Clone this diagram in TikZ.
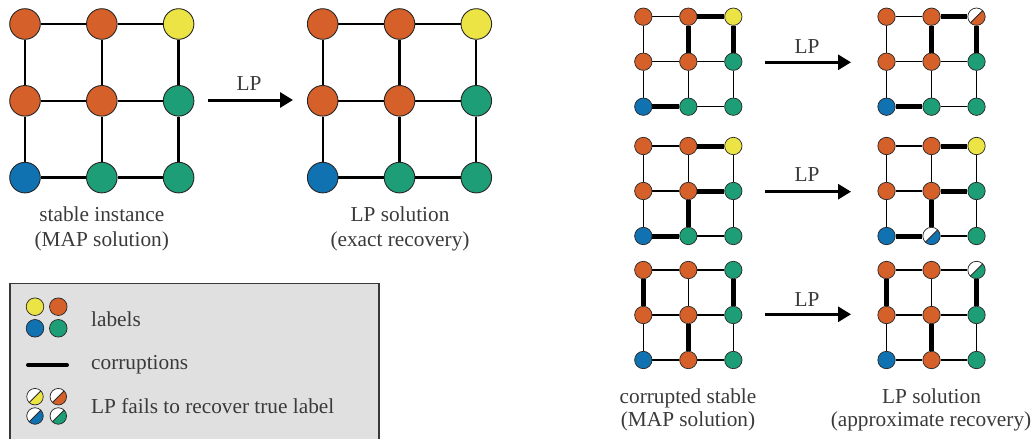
\documentclass[tikz,border=0pt]{standalone}
\usepackage{fontspec}
\setmainfont{Liberation Serif}
\usetikzlibrary{arrows.meta}
\pgfdeclarelayer{bg}
\pgfsetlayers{bg,main}
\definecolor{cOr}{HTML}{D6602A}
\definecolor{cYe}{HTML}{ECE445}
\definecolor{cBl}{HTML}{1172B2}
\definecolor{cGr}{HTML}{1D9E76}
\definecolor{txt}{HTML}{3A3A3A}
\tikzset{
  half/.style={path picture={
    \fill[white] (path picture bounding box.south west) -- (path picture bounding box.north west) -- (path picture bounding box.north east) -- cycle;
    \draw[line width=0.8pt] (path picture bounding box.south west) -- (path picture bounding box.north east);}},
  cO/.style={fill=cOr}, cY/.style={fill=cYe}, cB/.style={fill=cBl}, cG/.style={fill=cGr},
  hO/.style={fill=cOr,half}, hY/.style={fill=cYe,half}, hB/.style={fill=cBl,half}, hG/.style={fill=cGr,half},
  big/.style={circle, draw=black!85, line width=0.9pt, minimum size=30.6pt, inner sep=0pt},
  small/.style={circle, draw=black!85, line width=0.7pt, minimum size=17.4pt, inner sep=0pt},
  bigedge/.style={line width=2.3pt, black},
  smalledge/.style={line width=1.3pt, black},
  thk/.style={line width=5pt, black},
  lparrow/.style={line width=3pt, -{Triangle[length=13pt,width=15pt]}},
  txtfont/.style={font=\fontsize{21.3}{25}\selectfont, text=txt, inner sep=0pt},
}
\newcommand\mkgrid[6]{%
  \foreach \c [count=\i from 0] in {#6}{%
    \pgfmathtruncatemacro\gc{mod(\i,3)}%
    \pgfmathtruncatemacro\gr{div(\i,3)}%
    \node[#5,\c] (#1-\gc-\gr) at ({#2+\gc*#4},{#3+\gr*#4}) {};}}
\newcommand\mkedges[2]{%
  \begin{pgfonlayer}{bg}
  \foreach \a/\b in {0/1,1/2}{\foreach \r in {0,1,2}{%
    \draw[#2] (#1-\a-\r) -- (#1-\b-\r);
    \draw[#2] (#1-\r-\a) -- (#1-\r-\b);}}
  \end{pgfonlayer}}
\newcommand\mkthick[2]{%
  \begin{pgfonlayer}{bg}
  \foreach \p/\q in {#2}{\draw[thk] (#1-\p) -- (#1-\q);}
  \end{pgfonlayer}}
\begin{document}
\begin{tikzpicture}[x=1pt,y=-1pt]
\clip (0,0) rectangle (1034,439);
% left big grids
\mkgrid{L}{25}{24}{76.8}{big}{cO,cO,cY,cO,cO,cG,cB,cG,cG}
\mkedges{L}{bigedge}
\mkgrid{R}{322.7}{24}{76.8}{big}{cO,cO,cY,cO,cO,cG,cB,cG,cG}
\mkedges{R}{bigedge}
\coordinate (a0s) at (208,100);
\coordinate (a0e) at (293,100);
\draw[lparrow] (a0s) -- (a0e);
\node[txtfont, anchor=base] (lp0) at (249,90.7) {LP};
\node[txtfont, anchor=base] (t1) at (101.8,221.7) {stable instance};
\node[txtfont, anchor=base] (t2) at (101.8,246.5) {(MAP solution)};
\node[txtfont, anchor=base] (t3) at (400,221.7) {LP solution};
\node[txtfont, anchor=base] (t4) at (400,246.5) {(exact recovery)};
% legend
\draw[fill=black!12, draw=black!78, line width=1.6pt] (10,283.5) rectangle (379,460);
\node[small,minimum size=17.6pt,cY] (g1) at (35,306.7) {};
\node[small,minimum size=17.6pt,cO] (g2) at (58.3,306.7) {};
\node[small,minimum size=17.6pt,cB] (g3) at (35,328.3) {};
\node[small,minimum size=17.6pt,cG] (g4) at (58.3,328.3) {};
\coordinate (c1) at (28,365);
\coordinate (c2) at (67,365);
\draw[line width=4pt, line cap=round] (c1) -- (c2);
\node[small,minimum size=16.5pt,hY] (f1) at (35,396.7) {};
\node[small,minimum size=16.5pt,hO] (f2) at (58.3,396.7) {};
\node[small,minimum size=16.5pt,hB] (f3) at (35,416) {};
\node[small,minimum size=16.5pt,hG] (f4) at (58.3,416) {};
\node[txtfont, anchor=base west] (l1) at (91,326.7) {labels};
\node[txtfont, anchor=base west] (l2) at (91,369.3) {corruptions};
\node[txtfont, anchor=base west] (l3) at (91,413.3) {LP fails to recover true label};
% right rows
\mkgrid{A1}{643.3}{16.7}{45}{small}{cO,cO,cY,cO,cO,cG,cB,cG,cG}
\mkedges{A1}{smalledge}
\mkthick{A1}{1-0/2-0,1-0/1-1,2-0/2-1,0-2/1-2}
\mkgrid{B1}{886.5}{16.7}{45}{small}{cO,cO,hO,cO,cO,cG,cB,cG,cG}
\mkedges{B1}{smalledge}
\mkthick{B1}{1-0/2-0,1-0/1-1,2-0/2-1,0-2/1-2}
\mkgrid{A2}{643.3}{146}{45}{small}{cO,cO,cY,cO,cO,cG,cB,cG,cG}
\mkedges{A2}{smalledge}
\mkthick{A2}{1-0/2-0,1-1/2-1,1-1/1-2,0-2/1-2}
\mkgrid{B2}{886.5}{146}{45}{small}{cO,cO,cY,cO,cO,cG,cB,hB,cG}
\mkedges{B2}{smalledge}
\mkthick{B2}{1-0/2-0,1-1/2-1,1-1/1-2,0-2/1-2}
\mkgrid{A3}{643.3}{270}{45}{small}{cO,cO,cG,cO,cO,cG,cB,cO,cG}
\mkedges{A3}{smalledge}
\mkthick{A3}{0-0/0-1,2-0/2-1,1-1/1-2}
\mkgrid{B3}{886.5}{270}{45}{small}{cO,cO,hG,cO,cO,cG,cB,cO,cG}
\mkedges{B3}{smalledge}
\mkthick{B3}{0-0/0-1,2-0/2-1,1-1/1-2}
\coordinate (a1s) at (765,62.3);  \coordinate (a1e) at (851,62.3);
\coordinate (a2s) at (765,191.7); \coordinate (a2e) at (851,191.7);
\coordinate (a3s) at (765,314.3); \coordinate (a3e) at (851,314.3);
\draw[lparrow] (a1s) -- (a1e);
\draw[lparrow] (a2s) -- (a2e);
\draw[lparrow] (a3s) -- (a3e);
\node[txtfont, anchor=base] (lp1) at (807,53.3) {LP};
\node[txtfont, anchor=base] (lp2) at (807,181.7) {LP};
\node[txtfont, anchor=base] (lp3) at (807,306) {LP};
\node[txtfont, anchor=base] (t5) at (688,403.3) {corrupted stable};
\node[txtfont, anchor=base] (t6) at (688,426.5) {(MAP solution)};
\node[txtfont, anchor=base] (t7) at (931.5,403.3) {LP solution};
\node[txtfont, anchor=base] (t8) at (931,426.5) {(approximate recovery)};
\end{tikzpicture}
\end{document}
